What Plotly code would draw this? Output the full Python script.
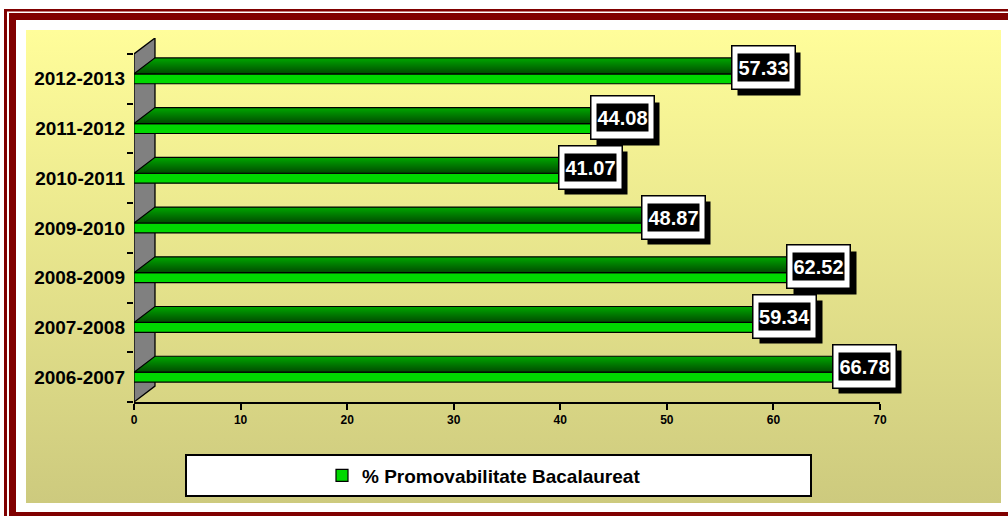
import base64
import plotly.graph_objects as go

# ---------------- data ----------------
categories = ["2006-2007", "2007-2008", "2008-2009", "2009-2010",
              "2010-2011", "2011-2012", "2012-2013"]
values = [66.78, 59.34, 62.52, 48.87, 41.07, 44.08, 57.33]
series_name = "% Promovabilitate Bacalaureat"
x_ticks = [0, 10, 20, 30, 40, 50, 60, 70]

# ---------------- layout constants ----------------
FIG_W, FIG_H = 1008, 516
PL, PR, PT, PB = 134, 880, 38, 402          # plot area in pixels
X_RANGE = [0, 70]
N = len(categories)
Y_RANGE = [-0.5, N - 0.5 + 0.32]
DX = 1.97      # 3D depth, x units
DY = 0.32      # 3D depth, category units
HH = 0.1       # half height of bar front face
FONT = "Liberation Sans, Arial, sans-serif"
MAROON = "#800000"


def pxx(x):
    return (x - PL) / (PR - PL)


def pyy(y):
    return (PB - y) / (PB - PT)


idx = list(range(N))
fig = go.Figure()

# front faces of the bars
fig.add_trace(go.Bar(
    y=idx, x=values, orientation="h", width=2 * HH, base=0,
    marker=dict(color="#00d800", line=dict(color="black", width=1.2)),
    name=series_name, hoverinfo="skip",
))

# top faces and end faces (3D depth)
for i, v in zip(idx, values):
    fig.add_trace(go.Scatter(
        x=[0, v, v + DX, DX, 0],
        y=[i + HH, i + HH, i + HH + DY, i + HH + DY, i + HH],
        mode="lines", fill="toself",
        fillgradient=dict(type="vertical",
                          colorscale=[[0, "#004a00"], [1, "#00a800"]]),
        line=dict(color="black", width=1.2),
        showlegend=False, hoverinfo="skip",
    ))
    fig.add_trace(go.Scatter(
        x=[v, v + DX, v + DX, v, v],
        y=[i - HH, i - HH + DY, i + HH + DY, i + HH, i - HH],
        mode="lines", fill="toself", fillcolor="#007000",
        line=dict(color="black", width=1.2),
        showlegend=False, hoverinfo="skip",
    ))

# ---------------- shapes ----------------
shapes = []
# 3D wall
lo, hi = -0.5, N - 0.5
shapes.append(dict(type="path", xref="x", yref="y", layer="below",
                   path=f"M 0,{lo} L {DX},{lo + DY} L {DX},{hi + DY} L 0,{hi} Z",
                   fillcolor="#808080", line=dict(color="black", width=1.3)))
# legend box
shapes.append(dict(type="rect", xref="paper", yref="paper",
                   x0=pxx(186), y0=pyy(455), x1=pxx(811), y1=pyy(496),
                   fillcolor="white", line=dict(color="black", width=2),
                   layer="below"))

# ---------------- background (frame + gradient) as one SVG image ----------------
svg = (f'<svg xmlns="http://www.w3.org/2000/svg" width="{FIG_W}" height="{FIG_H}" '
       f'viewBox="0 0 {FIG_W} {FIG_H}" preserveAspectRatio="none">'
       '<defs><linearGradient id="g" x1="0" y1="0" x2="0" y2="1">'
       '<stop offset="0" stop-color="#FFFD9A"/>'
       '<stop offset="1" stop-color="#CDCA7E"/>'
       '</linearGradient></defs>'
       f'<rect x="4" y="9" width="1004" height="2.5" fill="{MAROON}"/>'
       f'<rect x="4" y="9" width="3" height="507" fill="{MAROON}"/>'
       f'<rect x="9" y="13" width="999" height="7" fill="{MAROON}"/>'
       f'<rect x="9" y="13" width="7" height="503" fill="{MAROON}"/>'
       f'<rect x="9" y="512" width="999" height="4" fill="{MAROON}"/>'
       '<rect x="26" y="30" width="975" height="473" fill="url(#g)"/>'
       '</svg>')
src = "data:image/svg+xml;base64," + base64.b64encode(svg.encode()).decode()
images = [dict(source=src, xref="paper", yref="paper",
               x=pxx(0), y=pyy(0), sizex=FIG_W / (PR - PL),
               sizey=FIG_H / (PB - PT), xanchor="left", yanchor="top",
               sizing="stretch", layer="below")]

# ---------------- value labels ----------------
annotations = []
for i, v in zip(idx, values):
    ax, ay = v + 1.73, i + 0.22
    annotations.append(dict(x=ax, y=ay, xref="x", yref="y", text=" ",
                            showarrow=False, width=58, height=38, borderpad=2,
                            bgcolor="black", xshift=6, yshift=-6,
                            font=dict(size=12)))
    annotations.append(dict(x=ax, y=ay, xref="x", yref="y", text=" ",
                            showarrow=False, width=58, height=38, borderpad=2,
                            bgcolor="white", bordercolor="black",
                            borderwidth=1.5, font=dict(size=12)))
    annotations.append(dict(x=ax, y=ay, xref="x", yref="y",
                            text=f"{v:.2f}", showarrow=False,
                            width=51, height=27, borderpad=0,
                            bgcolor="black",
                            font=dict(family=FONT, size=20, color="white",
                                      weight="bold")))

fig.update_layout(
    width=FIG_W, height=FIG_H,
    margin=dict(l=PL, r=FIG_W - PR, t=PT, b=FIG_H - PB, pad=0),
    paper_bgcolor="white", plot_bgcolor="rgba(0,0,0,0)",
    barmode="overlay",
    shapes=shapes, images=images, annotations=annotations,
    showlegend=True,
    legend=dict(orientation="h", x=pxx(322), xanchor="left",
                y=pyy(475.5), yanchor="middle", bgcolor="rgba(0,0,0,0)",
                font=dict(family=FONT, size=19, color="black", weight="bold")),
    xaxis=dict(range=X_RANGE, tickmode="array", tickvals=x_ticks,
               ticks="outside", ticklen=6, tickwidth=1.5, tickcolor="black",
               showline=True, linecolor="black", linewidth=1.5,
               showgrid=False, zeroline=False,
               tickfont=dict(family=FONT, size=12, color="black",
                             weight="bold")),
    yaxis=dict(range=Y_RANGE, tickmode="array", tickvals=idx,
               ticktext=categories, ticks="", showline=False,
               showgrid=False, zeroline=False, ticklabelstandoff=8,
               minor=dict(tickmode="array",
                          tickvals=[k - 0.5 for k in range(N + 1)],
                          ticks="outside", ticklen=6, tickwidth=1.5,
                          tickcolor="black", showgrid=False),
               tickfont=dict(family=FONT, size=19, color="black",
                             weight="bold")),
)

fig.write_html(
    "out.html",
    config={"displayModeBar": False},
    post_script="document.body.style.margin='0';document.body.style.overflow='hidden';",
)
